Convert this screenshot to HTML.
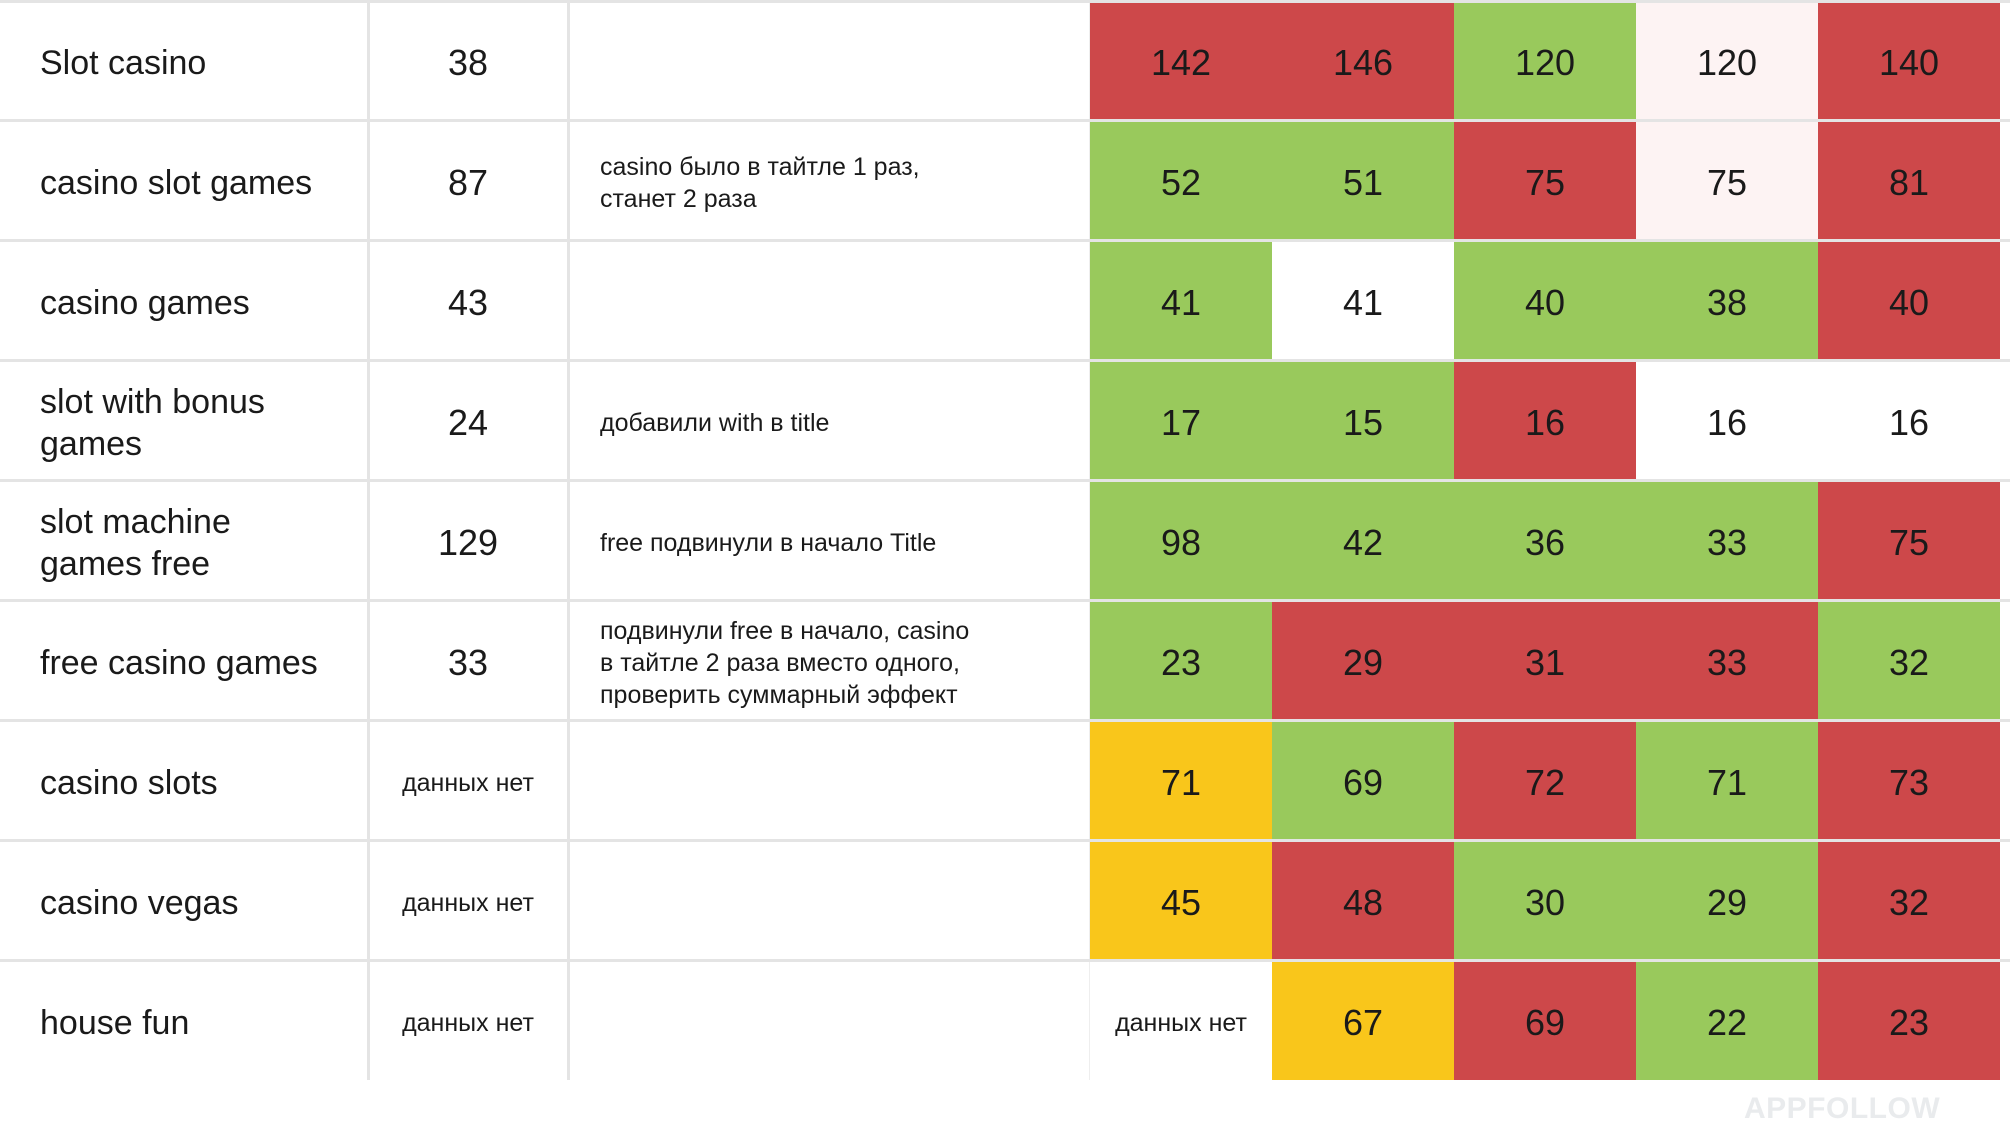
<!DOCTYPE html>
<html><head><meta charset="utf-8"><style>
body{margin:0;width:2010px;height:1121px;background:#fff;position:relative;overflow:hidden;font-family:"Liberation Sans","Noto Sans CJK SC",sans-serif;color:#1a1a1a}
.c{position:absolute;display:flex;align-items:center;box-sizing:border-box;padding-top:6px}
.n{justify-content:center;font-size:36px}
.l{font-size:34px;padding-left:40px;line-height:42px}
.m{font-size:25px;padding-left:32px;line-height:32px}
.s{font-size:25px;justify-content:center}
.hl{position:absolute;left:0;width:2010px;height:3px;background:#e4e4e4;z-index:1}
.vl{position:absolute;top:0;width:3px;height:1080px;background:#e4e4e4}
</style></head><body>
<div id="t"></div>
<div style="position:absolute;left:1744px;top:1092px;font-size:30px;font-weight:bold;color:#e9ebed;letter-spacing:0.5px">APPFOLLOW</div>
<script>
var R='#cd484a',G='#99c95c',Y='#f9c61b',P='#fdf3f3',W='#fff';
var rows=[
["Slot casino","38",[[142,R],[146,R],[120,G],[120,P],[140,R]]],
["casino slot games","87",[[52,G],[51,G],[75,R],[75,P],[81,R]]],
["casino games","43",[[41,G],[41,W],[40,G],[38,G],[40,R]]],
["slot with bonus<br>games","24",[[17,G],[15,G],[16,R],[16,W],[16,W]]],
["slot machine<br>games free","129",[[98,G],[42,G],[36,G],[33,G],[75,R]]],
["free casino games","33",[[23,G],[29,R],[31,R],[33,R],[32,G]]],
["casino slots","данных нет",[[71,Y],[69,G],[72,R],[71,G],[73,R]]],
["casino vegas","данных нет",[[45,Y],[48,R],[30,G],[29,G],[32,R]]],
["house fun","данных нет",[["данных нет",W],[67,Y],[69,R],[22,G],[23,R]]]];
var notes={1:"casino было в тайтле 1 раз,<br>станет 2 раза",3:"добавили with в title",4:"free подвинули в начало Title",5:"подвинули free в начало, casino<br>в тайтле 2 раза вместо одного,<br>проверить суммарный эффект"};
var xs=[1090,1272,1454,1636,1818,2000],h=120,o='';
rows.forEach(function(r,i){var y=i*h;
o+='<div class="c l" style="left:0;top:'+y+'px;width:368px;height:'+h+'px">'+r[0]+'</div>';
var sm=r[1].length>4;
o+='<div class="c '+(sm?'s':'n')+'" style="left:368px;top:'+y+'px;width:200px;height:'+h+'px">'+r[1]+'</div>';
if(notes[i]&&i!=1)o+='<div class="c m" style="left:568px;top:'+y+'px;width:522px;height:'+h+'px">'+notes[i]+'</div>';
r[2].forEach(function(c,j){var s=typeof c[0]=='string';
o+='<div class="c '+(s?'s':'n')+'" style="left:'+xs[j]+'px;top:'+y+'px;width:'+(xs[j+1]-xs[j])+'px;height:'+h+'px;background:'+c[1]+'">'+c[0]+'</div>';});
if(i>0)o+='<div class="hl" style="top:'+(y-1.5)+'px"></div>';
});
o+='<div class="c m" style="left:568px;top:0;width:522px;height:'+(3*h)+'px">'+notes[1]+'</div>';
o+='<div class="hl" style="top:0"></div>';
o+='<div class="vl" style="left:367px"></div><div class="vl" style="left:567px"></div><div class="vl" style="left:1089px;width:1px;background:#eee"></div>';
document.getElementById('t').innerHTML=o;
</script>
</body></html>
